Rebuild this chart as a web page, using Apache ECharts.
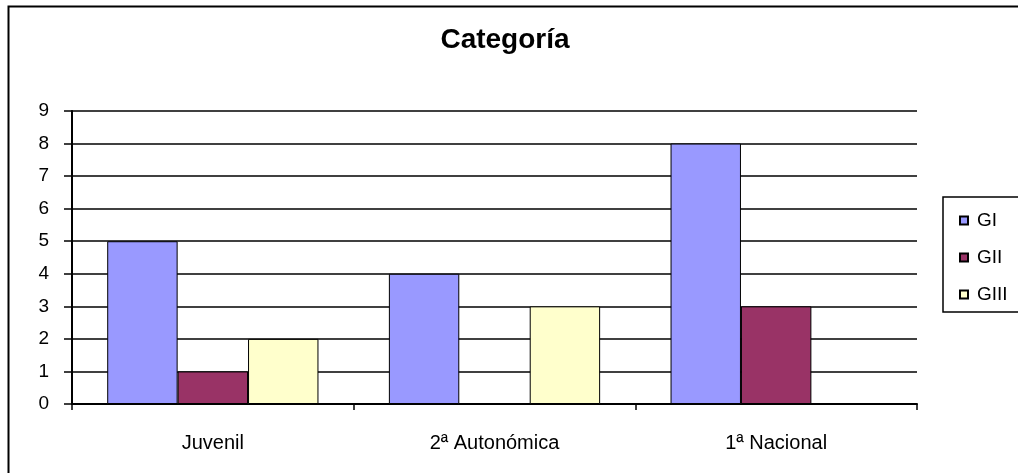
<!DOCTYPE html>
<html>
<head>
<meta charset="utf-8">
<script src="https://cdn.jsdelivr.net/npm/echarts@6/dist/echarts.min.js"></script>
<style>
html,body{margin:0;padding:0;background:#fff;}
#c{width:1018px;height:473px;}
</style>
</head>
<body>
<div id="c"></div>
<script>
const titleText = 'Categoría';
const categories = ['Juvenil', '2ª Autonómica', '1ª Nacional'];
const seriesNames = ['GI', 'GII', 'GIII'];
const gI = [5, 4, 8];
const gII = [1, 0, 3];
const gIII = [2, 3, 0];
const colors = ['#9999FF', '#993366', '#FFFFCC'];
const yMin = 0, yMax = 9, yStep = 1;

const FONT = '"Liberation Sans", Arial, sans-serif';
const chart = echarts.init(document.getElementById('c'), null, {renderer: 'canvas'});
const values = [gI, gII, gIII];
chart.setOption({
  animation: false,
  backgroundColor: '#fff',
  graphic: [{
    type: 'rect', left: 6, top: 4, z: -1,
    shape: {width: 1100, height: 600},
    style: {fill: 'none', stroke: '#000', lineWidth: 2}
  }],
  title: {
    text: titleText, left: 500, top: 21, textAlign: 'center',
    textStyle: {fontFamily: FONT, fontSize: 28, fontWeight: 'bold', color: '#000'}
  },
  legend: {
    data: seriesNames,
    orient: 'vertical',
    left: 943, top: 197,
    padding: [14, 40, 8, 16],
    itemGap: 18,
    itemWidth: 8, itemHeight: 8,
    icon: 'rect',
    borderColor: '#000', borderWidth: 1.5,
    textStyle: {fontFamily: FONT, fontSize: 19, color: '#000', padding: [0, 0, 0, 4]}
  },
  grid: {left: 72, right: 101, top: 111, bottom: 69, containLabel: false},
  xAxis: {
    type: 'category', data: categories,
    axisLine: {lineStyle: {color: '#000', width: 2}},
    axisTick: {show: true, length: 6, lineStyle: {color: '#000', width: 1.5}},
    axisLabel: {fontFamily: FONT, fontSize: 20, color: '#000', margin: 29}
  },
  yAxis: {
    type: 'value', min: yMin, max: yMax, interval: yStep,
    axisLine: {show: true, lineStyle: {color: '#000', width: 2}},
    axisTick: {show: true, length: 8, lineStyle: {color: '#000', width: 1.5}},
    axisLabel: {fontFamily: FONT, fontSize: 19, color: '#000', margin: 23},
    splitLine: {show: true, lineStyle: {color: '#000', width: 1.5}}
  },
  series: seriesNames.map((n, i) => ({
    name: n, type: 'bar', data: values[i],
    barGap: '0%', barCategoryGap: '25%',
    itemStyle: {color: colors[i], borderColor: '#000', borderWidth: 1}
  }))
});
</script>
</body>
</html>
